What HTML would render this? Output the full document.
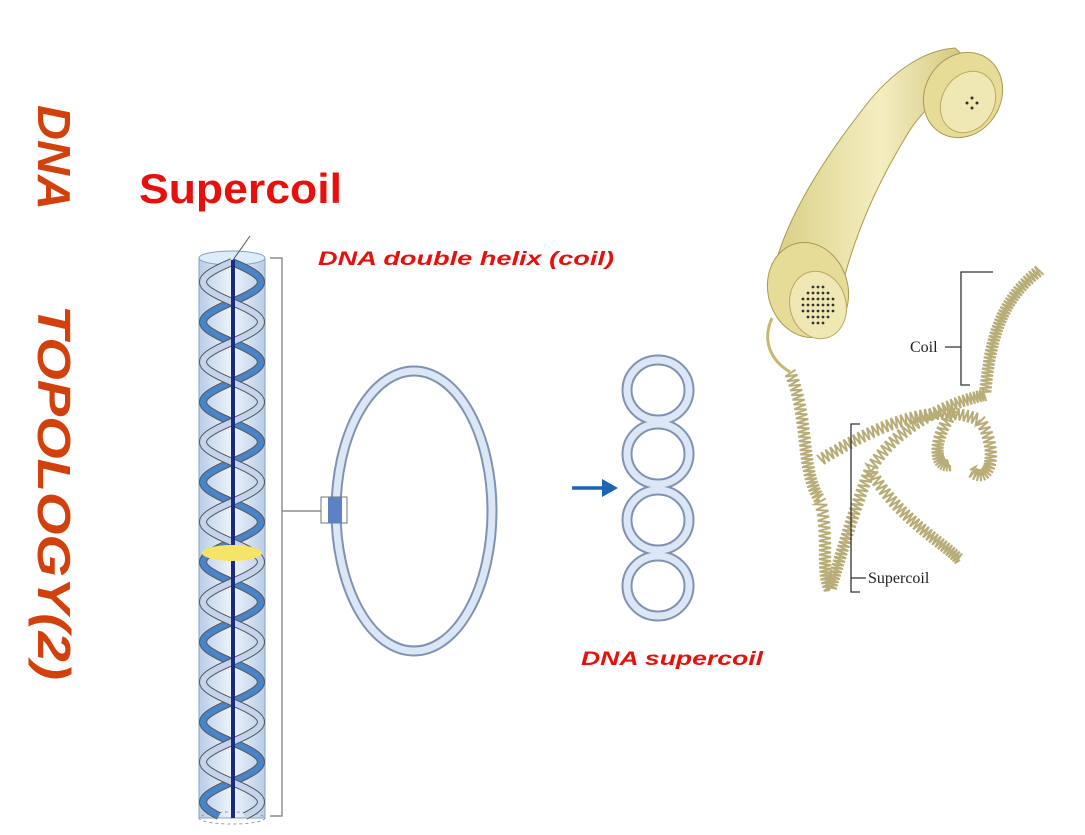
<!DOCTYPE html>
<html><head><meta charset="utf-8"><style>
html,body{margin:0;padding:0;background:#fff;width:1085px;height:835px;overflow:hidden}
svg{display:block}
</style></head><body>
<svg id="s" width="1085" height="835" viewBox="0 0 1085 835" xmlns="http://www.w3.org/2000/svg">
<defs>
<linearGradient id="cyl" x1="0" x2="1">
<stop offset="0" stop-color="#b9cde8"/><stop offset="0.5" stop-color="#eef4fb"/><stop offset="1" stop-color="#b9cde8"/>
</linearGradient>
<linearGradient id="ph" x1="0" x2="1" y1="0" y2="0">
<stop offset="0" stop-color="#d9cf86"/><stop offset="0.5" stop-color="#f4eec0"/><stop offset="1" stop-color="#cbbd70"/>
</linearGradient>
</defs>
<g font-family="Liberation Sans, sans-serif" font-weight="bold" font-style="italic" fill="#d2400c" font-size="46">
<text transform="translate(38,105) rotate(90)" textLength="105" lengthAdjust="spacingAndGlyphs">DNA</text>
<text transform="translate(38,305) rotate(90)" textLength="375" lengthAdjust="spacingAndGlyphs">TOPOLOGY(2)</text>
</g>
<text x="139" y="203" font-family="Liberation Sans, sans-serif" font-weight="bold" font-size="42" fill="#e8100c" textLength="203" lengthAdjust="spacingAndGlyphs">Supercoil</text>
<text x="318" y="265" font-family="Liberation Sans, sans-serif" font-weight="bold" font-style="italic" font-size="19" fill="#e8100c" textLength="296" lengthAdjust="spacingAndGlyphs">DNA double helix (coil)</text>
<text x="581" y="665" font-family="Liberation Sans, sans-serif" font-weight="bold" font-style="italic" font-size="19" fill="#e8100c" textLength="182" lengthAdjust="spacingAndGlyphs">DNA supercoil</text>
<rect x="199" y="258" width="66" height="560" fill="url(#cyl)" stroke="#8aa0c0"/>
<ellipse cx="232" cy="258" rx="33" ry="7" fill="#dcecf8" stroke="#8aa0c0"/>
<ellipse cx="232" cy="818" rx="33" ry="6" fill="none" stroke="#8aa0c0" stroke-dasharray="3,3"/>
<g id="helix"></g>
<line x1="233" y1="260" x2="233" y2="818" stroke="#1a2a80" stroke-width="4"/>
<ellipse cx="232" cy="553" rx="30" ry="8" fill="#f6e468"/>
<line x1="233" y1="260" x2="250" y2="236" stroke="#555"/>
<path d="M270 258 H282 V816 H270 M282 511 H322" fill="none" stroke="#777" stroke-width="1.2"/>
<ellipse cx="414" cy="511" rx="78" ry="140" fill="none" stroke="#7e92b4" stroke-width="11"/>
<ellipse cx="414" cy="511" rx="78" ry="140" fill="none" stroke="#dbe7f5" stroke-width="7"/>
<rect x="321" y="497" width="26" height="26" fill="#fff" stroke="#777"/>
<rect x="328" y="497" width="14" height="26" fill="#5c82c4"/>
<line x1="572" y1="488" x2="605" y2="488" stroke="#1c64b4" stroke-width="3.5"/>
<polygon points="618,488 602,479 602,497" fill="#1c64b4"/>
<g fill="none">
<g stroke="#7e92b4" stroke-width="11">
<ellipse cx="658" cy="390" rx="31" ry="30"/><ellipse cx="658" cy="454" rx="31" ry="30"/><ellipse cx="658" cy="520" rx="31" ry="30"/><ellipse cx="658" cy="586" rx="31" ry="30"/>
</g>
<g stroke="#dbe7f5" stroke-width="7">
<ellipse cx="658" cy="390" rx="31" ry="30"/><ellipse cx="658" cy="454" rx="31" ry="30"/><ellipse cx="658" cy="520" rx="31" ry="30"/><ellipse cx="658" cy="586" rx="31" ry="30"/>
</g>
</g>
<g>
<path d="M775 265 C790 210 830 150 870 100 C895 70 925 50 955 48 L985 75 C955 85 930 100 910 130 C885 170 860 220 845 275 Z" fill="url(#ph)" stroke="#a89a50"/>
<ellipse cx="963" cy="95" rx="38" ry="44" transform="rotate(30 963 95)" fill="#e6dc98" stroke="#a89a50"/>
<ellipse cx="968" cy="102" rx="26" ry="32" transform="rotate(30 968 102)" fill="#efe8b4" stroke="#b8aa60"/>
<ellipse cx="808" cy="290" rx="40" ry="48" transform="rotate(-15 808 290)" fill="#e6dc98" stroke="#a89a50"/>
<ellipse cx="818" cy="305" rx="28" ry="34" transform="rotate(-15 818 305)" fill="#efe8b4" stroke="#b8aa60"/>
<g fill="#333"><circle cx="972" cy="98" r="1.5"/><circle cx="967" cy="103" r="1.5"/><circle cx="977" cy="103" r="1.5"/><circle cx="972" cy="108" r="1.5"/></g>
<g id="holes" fill="#333"></g>
<path d="M772 318 C762 340 770 360 790 372" fill="none" stroke="#c8b870" stroke-width="3"/>
</g>
<g id="cord" fill="none" stroke="#b8ad78" stroke-width="2"></g>
<g font-family="Liberation Serif, serif" font-size="16" fill="#222">
<text x="910" y="352">Coil</text>
<text x="868" y="583">Supercoil</text>
</g>
<path d="M993 272 H961 V385 H970 M945 347 H961" fill="none" stroke="#333" stroke-width="1.3"/>
<path d="M860 424 H851 V592 H860 M851 578 H866" fill="none" stroke="#333" stroke-width="1.3"/>
</svg>
<script>
var NS="http://www.w3.org/2000/svg";
function el(p,t,a){var e=document.createElementNS(NS,t);for(var k in a)e.setAttribute(k,a[k]);p.appendChild(e);return e;}
var h=document.getElementById("helix");
[0,Math.PI].forEach(function(ph,idx){
 var pts=[];for(var y=262;y<=816;y+=2){pts.push((232+29*Math.sin((y-262)/80*2*Math.PI+ph)).toFixed(1)+","+y);}
 el(h,"polyline",{points:pts.join(" "),fill:"none",stroke:"#555",'stroke-width':8});
 el(h,"polyline",{points:pts.join(" "),fill:"none",stroke:idx?"#c4d4ec":"#4a84c8",'stroke-width':6});
});
var ho=document.getElementById("holes");
for(var i=-3;i<=3;i++)for(var j=-3;j<=3;j++){if(i*i+j*j<=10)el(ho,"circle",{cx:818+i*5,cy:305+j*6,r:1.4});}
var c=document.getElementById("cord");
function coil(path,n,r){var d="";for(var t=0;t<=n;t++){var u=t/n;var p=path(u),q=path(Math.min(1,u+0.001));var dx=q[0]-p[0],dy=q[1]-p[1],L=Math.hypot(dx,dy)||1;var nx=-dy/L,ny=dx/L;var s=(t%2?r:-r);d+=(t?"L":"M")+(p[0]+nx*s).toFixed(1)+" "+(p[1]+ny*s).toFixed(1);}el(c,"path",{d:d});}
function bez(P){return function(u){var a=1-u;var x=a*a*a*P[0]+3*a*a*u*P[2]+3*a*u*u*P[4]+u*u*u*P[6];var y=a*a*a*P[1]+3*a*a*u*P[3]+3*a*u*u*P[5]+u*u*u*P[7];return[x,y];}}
coil(bez([1040,270,1000,300,990,340,985,395]),80,6);
coil(bez([985,395,960,400,900,420,870,470]),60,6);
coil(bez([870,470,850,520,840,560,830,590]),60,6);
coil(bez([790,372,810,420,800,470,820,500]),60,6);
coil(bez([820,500,830,540,820,570,830,590]),40,6);
coil(bez([820,460,870,430,930,400,980,420]),70,6);
coil(bez([980,420,1000,450,990,490,970,470]),40,6);
coil(bez([955,410,930,440,935,470,950,465]),40,6);
coil(bez([870,470,900,520,940,540,960,560]),60,6);
</script>
</body></html>
